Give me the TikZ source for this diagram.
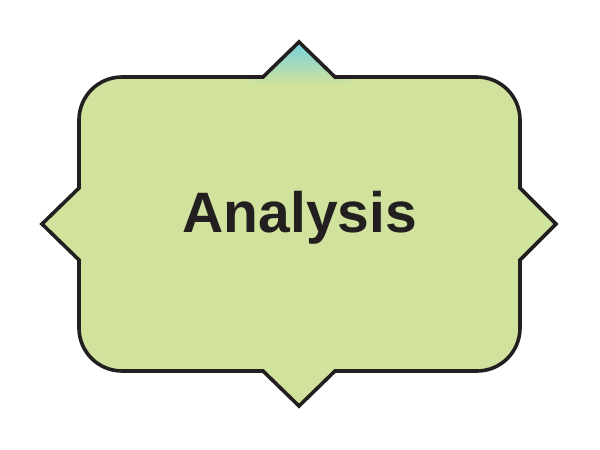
\documentclass[tikz,border=0pt]{standalone}
\usepackage{fontspec}
\setmainfont{Liberation Sans}
\begin{document}
\begin{tikzpicture}[x=1pt,y=1pt,
  shapeline/.style={draw=outline,line width=3.6pt,line join=miter}]
\definecolor{outline}{HTML}{231F20}
\definecolor{fillgreen}{HTML}{D1E29C}
\definecolor{tipcyan}{HTML}{6FCFE3}
\useasboundingbox (0,0) rectangle (600,450);
\def\r{43}
\def\shapepath{(79+\r,373) -- (263,373) -- (299,408) -- (335,373) -- (520-\r,373)
  arc[start angle=90,end angle=0,radius=\r] -- (520,262) -- (556,226) -- (520,190)
  -- (520,79+\r) arc[start angle=0,end angle=-90,radius=\r] -- (335,79) -- (299,44)
  -- (263,79) -- (79+\r,79) arc[start angle=270,end angle=180,radius=\r] -- (79,190)
  -- (42,226) -- (79,262) -- (79,373-\r) arc[start angle=180,end angle=90,radius=\r] -- cycle}
\fill[fillgreen] \shapepath;
\begin{scope}
\clip \shapepath;
\shade[top color=tipcyan,bottom color=fillgreen] (250,366) rectangle (350,410);
\end{scope}
\draw[shapeline] \shapepath;
\node[anchor=base,text=outline,font=\fontsize{57}{60}\selectfont\bfseries,inner sep=0pt] (label) at (300,217) {Analysis};
\end{tikzpicture}
\end{document}
